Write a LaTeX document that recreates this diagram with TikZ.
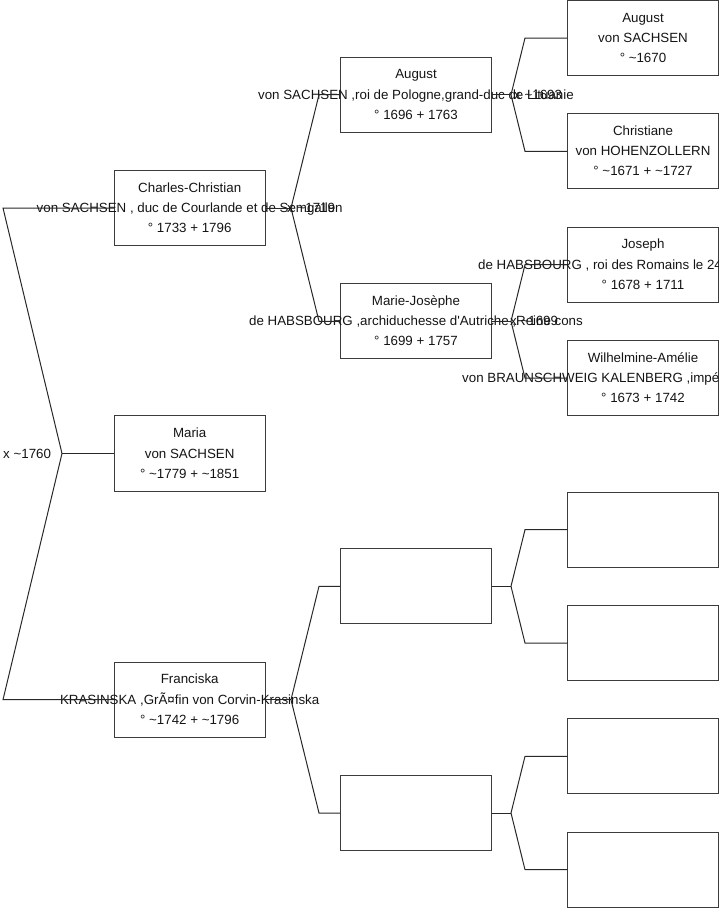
\documentclass[tikz,border=0pt]{standalone}
\usepackage{fontspec}
\newfontfamily\arialike{Liberation Sans}
\definecolor{boxgray}{RGB}{60,60,60}
\definecolor{linecol}{RGB}{40,40,40}
\definecolor{txtcol}{RGB}{20,20,20}
\tikzset{
  pbox/.style={draw=boxgray, line width=1pt, minimum width=151.3pt, minimum height=75.3pt, inner sep=0pt, outer sep=0pt},
  ptext/.style={inner sep=0pt, anchor=base, text=txtcol, font=\arialike\fontsize{13.33}{20}\selectfont},
  conn/.style={draw=linecol, line width=1pt},
  mlabel/.style={inner sep=0pt, anchor=west, text=txtcol, font=\arialike\fontsize{13.33}{20}\selectfont}
}
\newcommand\pbox[5]{%
  \node[pbox] (#1) at (#2) {};
  \node[ptext] (#1-1) at ([yshift=16pt]#1.center) {#3};
  \node[ptext] (#1-2) at ([yshift=-4.5pt]#1.center) {#4};
  \node[ptext] (#1-3) at ([yshift=-24.5pt]#1.center) {#5};}
\newcommand\pboxw[6]{%
  \node[pbox] (#1) at (#2) {};
  \node[ptext] (#1-1) at ([yshift=16pt]#1.center) {#3};
  \node[ptext, anchor=base west] (#1-2) at ([yshift=-4.5pt]#1.center -| #5) {#4};
  \node[ptext] (#1-3) at ([yshift=-24.5pt]#1.center) {#6};}
\begin{document}
\begin{tikzpicture}[x=1pt,y=-1pt]
\useasboundingbox (0,0) rectangle (719,908);
\clip (0,0) rectangle (719,908);
% generation 1
\pbox{cc}{189.7,208}{Charles-Christian}{von SACHSEN , duc de Courlande et de Semgallen}{° 1733 + 1796}
\pbox{ma}{189.7,453.5}{Maria}{von SACHSEN}{° \textasciitilde1779 + \textasciitilde1851}
\pbox{fr}{189.7,699.7}{Franciska}{KRASINSKA ,GrÃ¤fin von Corvin-Krasinska}{° \textasciitilde1742 + \textasciitilde1796}
% generation 2
\pbox{au}{416,94.7}{August}{von SACHSEN ,roi de Pologne,grand-duc de Lituanie}{° 1696 + 1763}
\pbox{mj}{416,321.3}{Marie-Josèphe}{de HABSBOURG ,archiduchesse d'Autriche ,Reine cons}{° 1699 + 1757}
\node[pbox] (e1) at (416,586.3) {};
\node[pbox] (e2) at (416,813) {};
% generation 3
\pbox{ga}{643,38}{August}{von SACHSEN}{° \textasciitilde1670}
\pbox{gb}{643,151.3}{Christiane}{von HOHENZOLLERN}{° \textasciitilde1671 + \textasciitilde1727}
\coordinate (jx) at (478,0);
\coordinate (wx) at (462,0);
\pboxw{gc}{643,264.7}{Joseph}{de HABSBOURG , roi des Romains le 24}{jx}{° 1678 + 1711}
\pboxw{gd}{643,378}{Wilhelmine-Amélie}{von BRAUNSCHWEIG KALENBERG ,impé}{wx}{° 1673 + 1742}
\node[pbox] (g5) at (643,529.7) {};
\node[pbox] (g6) at (643,643) {};
\node[pbox] (g7) at (643,756.3) {};
\node[pbox] (g8) at (643,869.7) {};
% connectors generation 0 -> 1
\coordinate (v0) at (62,453.5);
\coordinate (t0) at (3,208);
\coordinate (b0) at (3,699.7);
\draw[conn] (cc.west) -- (t0) -- (v0) -- (b0) -- (fr.west);
\draw[conn] (v0) -- (ma.west);
% generation 1 -> 2
\coordinate (v1) at (291,208);
\coordinate (v1a) at (319,94.7);
\coordinate (v1b) at (319,321.3);
\draw[conn] (cc.east) -- (v1);
\draw[conn] (au.west) -- (v1a) -- (v1) -- (v1b) -- (mj.west);
\coordinate (v2) at (291,699.7);
\coordinate (v2a) at (319,586.3);
\coordinate (v2b) at (319,813);
\draw[conn] (fr.east) -- (v2);
\draw[conn] (e1.west) -- (v2a) -- (v2) -- (v2b) -- (e2.west);
% generation 2 -> 3
\coordinate (w1) at (511,94.7);
\coordinate (w1a) at (525,38);
\coordinate (w1b) at (525,151.3);
\draw[conn] (au.east) -- (w1);
\draw[conn] (ga.west) -- (w1a) -- (w1) -- (w1b) -- (gb.west);
\coordinate (w2) at (511,321.3);
\coordinate (w2a) at (525,264.7);
\coordinate (w2b) at (525,378);
\draw[conn] (mj.east) -- (w2);
\draw[conn] (gc.west) -- (w2a) -- (w2) -- (w2b) -- (gd.west);
\coordinate (w3) at (511,586.3);
\coordinate (w3a) at (525,529.7);
\coordinate (w3b) at (525,643);
\draw[conn] (e1.east) -- (w3);
\draw[conn] (g5.west) -- (w3a) -- (w3) -- (w3b) -- (g6.west);
\coordinate (w4) at (511,813);
\coordinate (w4a) at (525,756.3);
\coordinate (w4b) at (525,869.7);
\draw[conn] (e2.east) -- (w4);
\draw[conn] (g7.west) -- (w4a) -- (w4) -- (w4b) -- (g8.west);
% marriage labels
\node[mlabel] (m1760) at (3,453.5) {x \textasciitilde1760};
\node[mlabel] (m1719) at (287,208) {x \textasciitilde1719};
\node[mlabel] (m1693) at (514,94.7) {x \textasciitilde1693};
\node[mlabel] (m1699) at (510,321.3) {x \textasciitilde1699};
\end{tikzpicture}
\end{document}
